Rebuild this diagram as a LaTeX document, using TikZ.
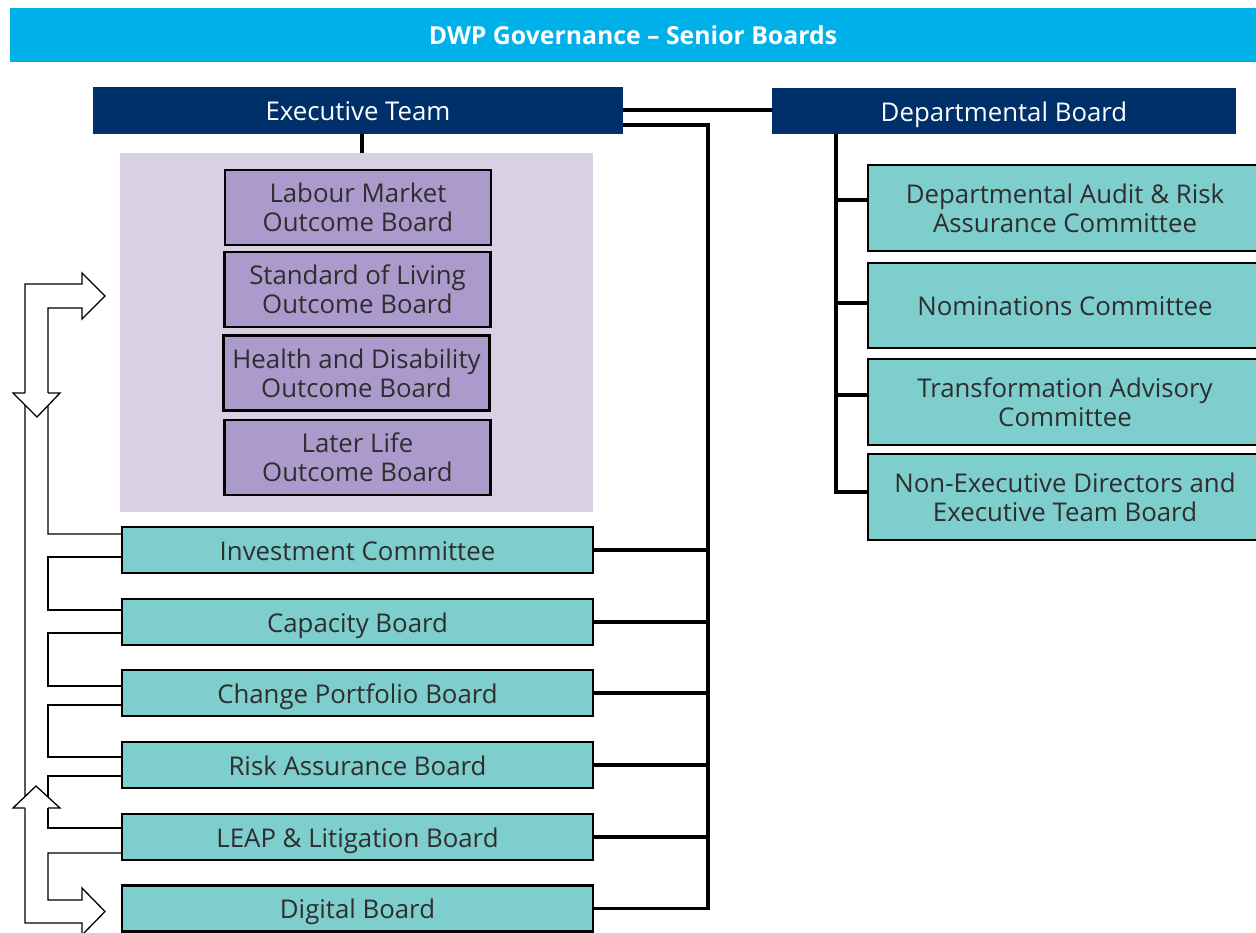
\documentclass[tikz,border=0pt]{standalone}
\usepackage{fontspec}
\setmainfont{Open Sans}
\definecolor{titlebg}{HTML}{00B0E8}
\definecolor{navy}{HTML}{003069}
\definecolor{lavbg}{HTML}{DAD0E3}
\definecolor{purp}{HTML}{AB9ACB}
\definecolor{teal}{HTML}{7ECECE}
\definecolor{txt}{HTML}{2E2E2E}
\begin{document}
\begin{tikzpicture}[x=1pt,y=-1pt,
  bodyfont/.style={font=\fontsize{25.8}{29}\selectfont},
  oneline/.style={text height=24pt, text depth=4pt},
  navybox/.style={fill=navy, text=white, inner sep=0pt, bodyfont, oneline},
  purpbox/.style={draw=black, line width=2.5pt, fill=purp, text=txt, inner sep=0pt, align=center,
     minimum width=266pt, minimum height=75pt, bodyfont},
  tealbox/.style={draw=black, line width=2.5pt, fill=teal, text=txt, inner sep=0pt, align=center, bodyfont},
  conn/.style={line width=3.5pt, black},
  band/.style={line width=1.3pt, black, line join=miter},
  headfill/.style={fill=white, draw=none}
]
\useasboundingbox (0,0) rectangle (1256,932);
\fill[white] (0,0) rectangle (1256,932);

% title
\node[fill=titlebg, text=white, minimum width=1246pt, minimum height=54pt, inner sep=0pt,
      font=\bfseries\fontsize{24.8}{27}\selectfont] (title) at (633,35) {DWP Governance – Senior Boards};

% top boards
\node[navybox, minimum width=530pt, minimum height=47pt] (exec) at (358,110.5) {Executive Team};
\node[navybox, minimum width=464pt, minimum height=46pt] (dept) at (1004,111) {Departmental Board};

% lavender area
\node[fill=lavbg, minimum width=473pt, minimum height=359pt, inner sep=0pt] (lav) at (356.5,332.5) {};

\node[purpbox] (lmob) at (358,207.5) {Labour Market\\Outcome Board};
\node[purpbox] (slob) at (357.5,289.5) {Standard of Living\\Outcome Board};
\node[purpbox] (hdob) at (356.5,373) {Health and Disability\\Outcome Board};
\node[purpbox] (llob) at (357.5,457.5) {Later Life\\Outcome Board};

% left teal boards
\begin{scope}[every node/.style={tealbox, oneline, minimum width=471pt, minimum height=46pt}]
\node (inv) at (357.5,550) {Investment Committee};
\node (cap) at (357.5,622) {Capacity Board};
\node (chg) at (357.5,693) {Change Portfolio Board};
\node (risk) at (357.5,765) {Risk Assurance Board};
\node (leap) at (357.5,837) {LEAP \& Litigation Board};
\node (dig) at (357.5,908.5) {Digital Board};
\end{scope}

% right teal boards
\begin{scope}[every node/.style={tealbox, minimum width=394pt}]
\node[minimum height=86pt] (darac) at (1065,208) {Departmental Audit \& Risk\\Assurance Committee};
\node[minimum height=85pt, oneline] (nom) at (1065,305.5) {Nominations Committee};
\node[minimum height=86pt] (tac) at (1065,402) {Transformation Advisory\\Committee};
\node[minimum height=86pt] (ned) at (1065,497) {Non-Executive Directors and\\Executive Team Board};
\end{scope}

% connectors
\coordinate (busTop) at (708,125);
\coordinate (busBot) at (dig.east -| busTop);
\draw[conn] (exec.east |- 0,110) -- (dept.west |- 0,110);
\draw[conn] (exec.east |- busTop) -- (busTop) -- ([yshift=1.75pt]busBot);
\foreach \b in {inv,cap,chg,risk,leap}{
  \draw[conn] (\b.east) -- (\b.east -| busTop);
}
\draw[conn] (dig.east) -- ([xshift=1.75pt]busBot);
\draw[conn] ([xshift=4pt]exec.south) -- ([xshift=4pt]exec.south |- lav.north);

\coordinate (dTop) at (836,134);
\coordinate (dBot) at (836,492);
\draw[conn] (dTop) -- ([yshift=1.75pt]dBot);
\draw[conn] (836,200) -- (darac.west |- 0,200);
\draw[conn] (836,303) -- (nom.west |- 0,303);
\draw[conn] (836,395) -- (tac.west |- 0,395);
\draw[conn] ([xshift=-1.75pt]dBot) -- (ned.west |- dBot);

% left band (double arrow shape)
\draw[band] (25,400) -- (25,284) -- (82,284) -- (82,273) -- (105,296) -- (82,319) -- (82,308) -- (48,308) -- (48,534) -- (inv.west |- 0,534);
\draw[band] (inv.west |- 0,557) -- (48,557) -- (48,610) -- (cap.west |- 0,610);
\draw[band] (cap.west |- 0,633) -- (48,633) -- (48,686) -- (chg.west |- 0,686);
\draw[band] (chg.west |- 0,705) -- (48,705) -- (48,757) -- (risk.west |- 0,757);
\draw[band] (risk.west |- 0,776) -- (48,776) -- (48,828) -- (leap.west |- 0,828);
\draw[band] (leap.west |- 0,853) -- (48,853) -- (48,900) -- (82,900) -- (82,888) -- (105,911.5) -- (82,935) -- (82,923) -- (25,923) -- (25,395);
% down arrowhead
\fill[headfill] (13,393) -- (37,417) -- (60,393) -- cycle;
\draw[band] (25,393) -- (13,393) -- (37,417) -- (60,393) -- (48,393);
% up arrowhead
\fill[headfill] (13,808) -- (36,786) -- (60,808) -- cycle;
\draw[band] (25,808) -- (13,808) -- (36,786) -- (60,808) -- (48,808);
\end{tikzpicture}
\end{document}
